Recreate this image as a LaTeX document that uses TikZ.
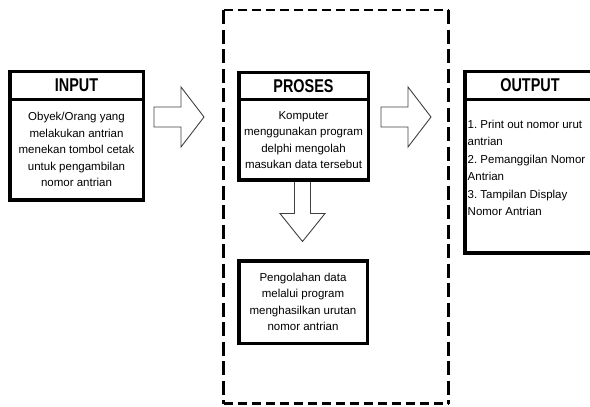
\documentclass[tikz,border=0pt]{standalone}
\usepackage{fontspec}
\setmainfont{Liberation Sans}
\newfontfamily\headfont[FakeStretch=0.78]{Liberation Sans}
\usetikzlibrary{positioning}
\frenchspacing

\tikzset{
  headbox/.style={draw, fill=white, line width=3.5pt, outer sep=0pt, inner sep=0pt,
    font=\headfont\bfseries\fontsize{18.5}{20}\selectfont},
  bodybox/.style={draw, fill=white, line width=3.5pt, outer sep=0pt, align=center,
    font=\fontsize{11.5}{16.5}\selectfont},
  listtext/.style={inner sep=0pt, align=left, anchor=north west,
    font=\fontsize{11.5}{17.5}\selectfont},
  blockarrow/.style={draw=black!75, line width=0.9pt, line join=miter},
  dashline/.style={line width=2.2pt}
}

\begin{document}
\begin{tikzpicture}[x=1pt,y=-1pt]
        \useasboundingbox (0,0) rectangle (590,407);
        % dashed frame around the process part
        \draw[dashline, dash pattern=on 9.5pt off 4.5pt] (223.5,10) -- (448.5,10) (223.5,403.5) -- (448.5,403.5);
        \draw[dashline, dash pattern=on 14pt off 5.5pt] (223.5,10) -- (223.5,403.5) (448.5,10) -- (448.5,403.5);

        % input
        \node[headbox, minimum width=133.5pt, minimum height=27.75pt] (inhead) at (76.5,85.6) {INPUT};
        \node[bodybox, minimum width=133.5pt, minimum height=100.75pt, below=0pt of inhead] (inbody)
            {Obyek/Orang yang\\melakukan antrian\\menekan tombol cetak\\untuk pengambilan\\nomor antrian};

        % proses
        \node[headbox, minimum width=129.5pt, minimum height=26.75pt] (prohead) at (303.5,86.1) {PROSES};
        \node[bodybox, minimum width=129.5pt, minimum height=80.75pt, below=0pt of prohead] (probody)
            {Komputer\\menggunakan program\\delphi mengolah\\masukan data tersebut};
        \node[bodybox, minimum width=128.5pt, minimum height=82.5pt] (olah) at (303,302)
            {Pengolahan data\\melalui program\\menghasilkan urutan\\nomor antrian};

        % output (runs off the right edge)
        \node[headbox, minimum width=150.5pt, minimum height=27.75pt] (outhead) at (540,85.6) {OUTPUT\hspace*{20pt}};
        \node[bodybox, minimum width=150.5pt, minimum height=153.75pt, below=0pt of outhead] (outbody) {};
        \node[listtext] (outlist) at (467.5,119.5)
            {1. Print out nomor urut\\antrian\\2. Pemanggilan Nomor\\Antrian\\3. Tampilan Display\\Nomor Antrian};

        % block arrows
        \draw[blockarrow] (154,107) -- (181,107) -- (181,87) -- (204,117) -- (181,147) -- (181,127) -- (154,127) -- cycle;
        \draw[blockarrow] (381,107) -- (408,107) -- (408,87) -- (431,117) -- (408,147) -- (408,127) -- (381,127) -- cycle;
        \draw[blockarrow] (294.5,182) -- (294.5,213.5) -- (280,213.5) -- (302.5,241.5) -- (325,213.5) -- (310.5,213.5) -- (310.5,182);
\end{tikzpicture}
\end{document}
